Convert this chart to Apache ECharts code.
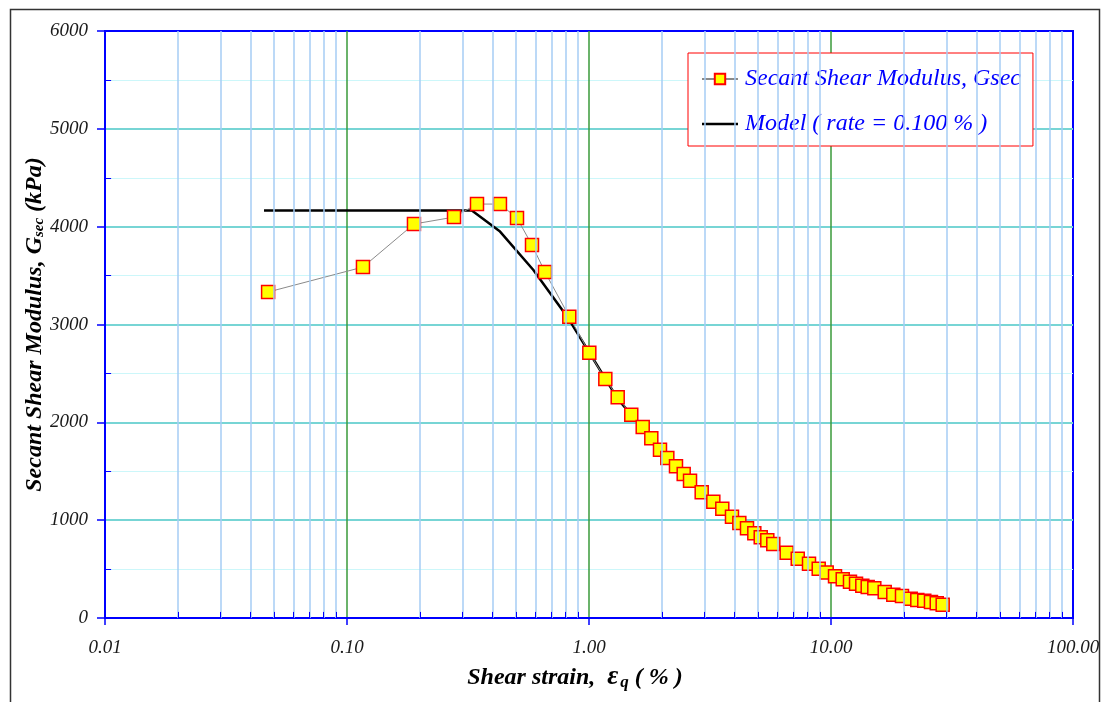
<!DOCTYPE html>
<html>
<head>
<meta charset="utf-8">
<script src="https://cdn.jsdelivr.net/npm/echarts@6/dist/echarts.min.js"></script>
<style>
html,body{margin:0;padding:0;background:#fff;}
#chart{width:1106px;height:702px;}
</style>
</head>
<body>
<div id="chart"></div>
<script>
// ---- Data ----
const strain = [0.0472,0.1164,0.1891,0.2768,0.3445,0.4286,0.5041,0.5814,0.6580,0.8291,
  1.003,1.168,1.314,1.495,1.667,1.809,1.965,2.107,2.288,2.462,2.615,2.922,3.264,3.555,3.898,
  4.180,4.497,4.821,5.124,5.455,5.775,6.560,7.287,8.112,8.897,9.598,10.39,11.18,11.98,12.69,
  13.47,14.18,15.10,16.67,18.09,19.65,21.35,22.73,24.29,25.89,27.35,28.94];
const gsec = [3332,3587,4027,4098,4231,4231,4088,3812,3536,3079,
  2711,2443,2256,2078,1952,1837,1720,1635,1550,1472,1403,1285,1189,1117,1035,
  971,917,866,825,794,756,667,606,555,504,465,426,396,371,351,
  330,317,304,266,238,225,197,184,177,164,150,136];
const modelStrain = [0.0454,0.328,0.429,0.589,0.821,1.0,1.314,1.667,2.288,2.922,3.898,5.124,6.56,8.897,11.98,16.67,22.73,28.94];
const modelG = [4165,4165,3950,3557,3063,2719,2240,1940,1540,1280,1030,820,665,505,370,265,185,136];
const xTickLabels = ['0.01','0.10','1.00','10.00','100.00'];
const yTicks = [0,1000,2000,3000,4000,5000,6000];
const seriesNames = ['Secant Shear Modulus, Gsec','Model ( rate = 0.100 % )'];

// minor log positions (2..9 in each decade)
const minorX = [];
[0.01,0.1,1,10].forEach(d => { for (let k = 2; k <= 9; k++) minorX.push(+(d*k).toPrecision(3)); });
const minorY = [500,1500,2500,3500,4500,5500];

const FONT = 'Liberation Serif';
const gsecData = strain.map((x,i)=>[x,gsec[i]]);
const modelData = modelStrain.map((x,i)=>[x,modelG[i]]);

const gridLines = minorX.map(v => ({xAxis: v}));
const xMinorTicks = minorX.map(v => [{coord:[v,0]},{coord:[v,62]}]);
const yMinorTicks = minorY.map(v => [{coord:[0.01,v]},{coord:[0.0106,v]}]);

const chart = echarts.init(document.getElementById('chart'), null, {renderer:'canvas'});
chart.setOption({
  animation: false,
  backgroundColor: '#ffffff',
  graphic: [{
    type: 'rect', left: 8, top: 7, silent: true, z: 100,
    shape: {width: 1089, height: 720},
    style: {fill: 'none', stroke: '#333333', lineWidth: 1.5}
  }],
  grid: {left: 105, top: 31, right: 33, bottom: 84, show: true, borderColor: '#0000ff', borderWidth: 2, backgroundColor: 'transparent'},
  legend: {
    data: [
      {name: seriesNames[0]},
      {name: seriesNames[1], icon: 'path://M0,0 L36,0 L36,2.5 L0,2.5 Z'}
    ],
    orient: 'vertical',
    left: 688, top: 53,
    padding: [14, 12, 10, 13],
    itemGap: 21,
    itemWidth: 36, itemHeight: 13,
    backgroundColor: '#ffffff',
    borderColor: '#ff0000', borderWidth: 1,
    textStyle: {color: '#0000ff', fontFamily: FONT, fontStyle: 'italic', fontSize: 24, padding: [0,0,0,2]}
  },
  xAxis: {
    type: 'log', logBase: 10, min: 0.01, max: 100,
    name: '{a|Shear strain,  }{e|ε}{q|q}{a| ( % )}',
    nameLocation: 'middle', nameGap: 46, nameMoveOverlap: false,
    nameTextStyle: {
      padding: [0, 28, 0, 0],
      rich: {
        a: {fontFamily: FONT, fontStyle: 'italic', fontWeight: 'bold', fontSize: 24, color: '#000'},
        e: {fontFamily: FONT, fontStyle: 'italic', fontWeight: 'bold', fontSize: 27, color: '#000'},
        q: {fontFamily: FONT, fontStyle: 'italic', fontWeight: 'bold', fontSize: 17, color: '#000', verticalAlign: 'bottom', padding: [9,0,0,2]}
      }
    },
    axisLine: {show: true, onZero: false, lineStyle: {color: '#0000ff', width: 2}},
    axisTick: {show: true, inside: false, length: 7, lineStyle: {color: '#0000ff', width: 1.5}},
    axisLabel: {
      margin: 20, color: '#1a1a1a', fontFamily: FONT, fontStyle: 'italic', fontSize: 19,
      formatter: v => { const i = Math.round(Math.log10(v)) + 2; return xTickLabels[i] !== undefined ? xTickLabels[i] : ''; }
    },
    splitLine: {show: true, showMinLine: false, showMaxLine: false, lineStyle: {color: '#3a9a3a', width: 1.5}}
  },
  yAxis: {
    type: 'value', min: yTicks[0], max: yTicks[yTicks.length-1], interval: 1000,
    name: '{a|Secant Shear Modulus, G}{s|sec}{a| (kPa)}',
    nameLocation: 'middle', nameGap: 58, nameRotate: 90, nameMoveOverlap: false,
    nameTextStyle: {
      rich: {
        a: {fontFamily: FONT, fontStyle: 'italic', fontWeight: 'bold', fontSize: 24, color: '#000'},
        s: {fontFamily: FONT, fontStyle: 'italic', fontWeight: 'bold', fontSize: 15, color: '#000', verticalAlign: 'bottom', padding: [8,0,0,0]}
      }
    },
    axisLine: {show: true, lineStyle: {color: '#0000ff', width: 2}},
    axisTick: {show: true, inside: false, length: 8, lineStyle: {color: '#0000ff', width: 1.5}},
    axisLabel: {margin: 17, color: '#1a1a1a', fontFamily: FONT, fontStyle: 'italic', fontSize: 19, formatter: v => String(v)},
    splitLine: {show: true, showMinLine: false, showMaxLine: false, lineStyle: {color: '#77d5d5', width: 2}},
    minorTick: {show: false, splitNumber: 2},
    minorSplitLine: {show: true, lineStyle: {color: '#ccf7fa', width: 1}}
  },
  series: [
    {
      name: '_grid', type: 'line', data: [], z: 1, silent: true, symbol: 'none',
      markLine: {
        silent: true, symbol: 'none', animation: false,
        label: {show: false},
        emphasis: {disabled: true},
        data: gridLines.map(d => Object.assign({lineStyle: {color: '#a6cdf5', width: 1.5, type: 'solid'}}, d))
          .concat(xMinorTicks.map(p => [Object.assign({lineStyle: {color: '#0000ff', width: 1, type: 'solid'}}, p[0]), p[1]]))
          .concat(yMinorTicks.map(p => [Object.assign({lineStyle: {color: '#0000ff', width: 1, type: 'solid'}}, p[0]), p[1]]))
      }
    },
    {
      name: seriesNames[1], type: 'line', data: modelData, z: 3,
      symbol: 'none', showSymbol: false,
      lineStyle: {color: '#000000', width: 2.5},
      itemStyle: {color: '#000000'}
    },
    {
      name: seriesNames[0], type: 'line', data: gsecData, z: 4,
      symbol: 'rect', symbolSize: 13,
      lineStyle: {color: '#8a8a8a', width: 1},
      itemStyle: {color: '#ffff00', borderColor: '#ff0000', borderWidth: 1.5}
    }
  ]
});
</script>
</body>
</html>
